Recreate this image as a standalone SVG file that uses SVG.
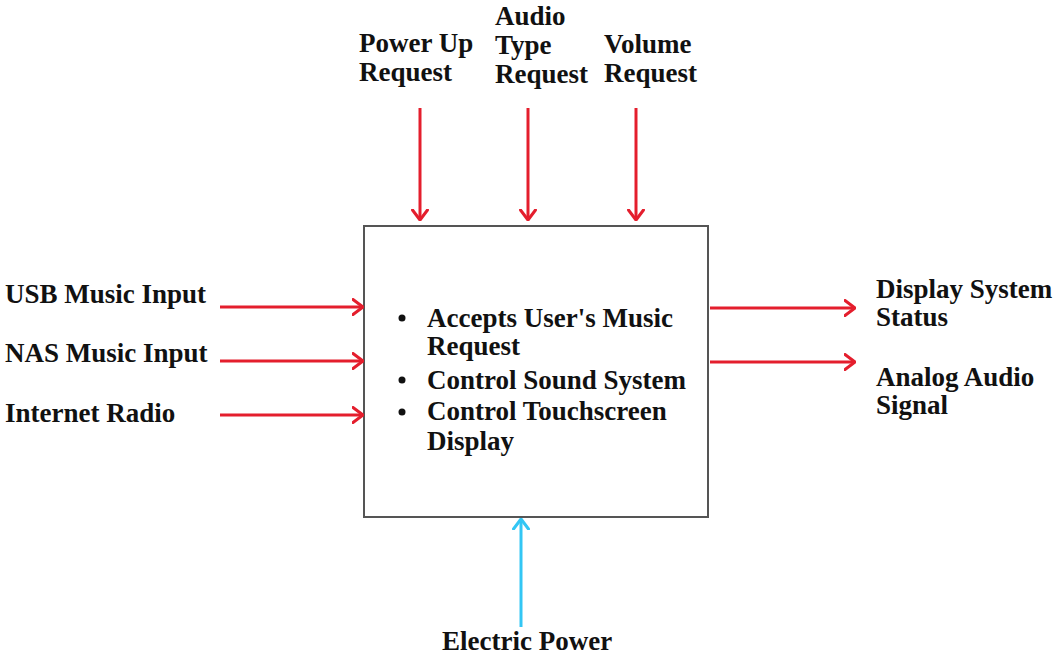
<svg xmlns="http://www.w3.org/2000/svg" width="1053" height="656" viewBox="0 0 1053 656">
<defs>
<style>
text{font-family:"Liberation Serif","Times New Roman",serif;font-weight:bold;font-size:27px;fill:#111}
.red{stroke:#e41e2d;stroke-width:3;fill:none}
.blue{stroke:#33c6f4;stroke-width:3;fill:none}
.box{fill:#fff;stroke:#555;stroke-width:2}
</style>
<marker id="ar" viewBox="0 0 12 18" refX="11" refY="9" markerWidth="12" markerHeight="18" markerUnits="userSpaceOnUse" orient="auto">
<path d="M1,1.5 L11,9 L1,16.5" fill="none" stroke="#e41e2d" stroke-width="3" stroke-linecap="round" stroke-linejoin="round"/>
</marker>
<marker id="ab" viewBox="0 0 12 18" refX="11" refY="9" markerWidth="12" markerHeight="18" markerUnits="userSpaceOnUse" orient="auto">
<path d="M1,1.5 L11,9 L1,16.5" fill="none" stroke="#33c6f4" stroke-width="3" stroke-linecap="round" stroke-linejoin="round"/>
</marker>
</defs>
<rect width="1053" height="656" fill="#fff"/>
<g id="process">
<rect class="box" x="364" y="226" width="344" height="291"/>
<circle cx="402" cy="318" r="3.5" fill="#111"/>
<circle cx="402" cy="380" r="3.5" fill="#111"/>
<circle cx="402" cy="412" r="3.5" fill="#111"/>
<text x="427" y="327">Accepts User's Music</text>
<text x="427" y="355">Request</text>
<text x="427" y="389">Control Sound System</text>
<text x="427" y="420">Control Touchscreen</text>
<text x="427" y="450">Display</text>
</g>
<g id="connectors">
<line class="red" x1="420" y1="108" x2="420" y2="220" marker-end="url(#ar)"/>
<line class="red" x1="528" y1="108" x2="528" y2="220" marker-end="url(#ar)"/>
<line class="red" x1="636" y1="108" x2="636" y2="220" marker-end="url(#ar)"/>
<line class="red" x1="220" y1="307" x2="363" y2="307" marker-end="url(#ar)"/>
<line class="red" x1="220" y1="361" x2="363" y2="361" marker-end="url(#ar)"/>
<line class="red" x1="220" y1="415" x2="363" y2="415" marker-end="url(#ar)"/>
<line class="red" x1="710" y1="308" x2="855" y2="308" marker-end="url(#ar)"/>
<line class="red" x1="710" y1="362" x2="855" y2="362" marker-end="url(#ar)"/>
<line class="blue" x1="521" y1="627" x2="521" y2="519" marker-end="url(#ab)"/>
</g>
<g id="power-up"><text x="359" y="52">Power Up</text><text x="359" y="81">Request</text></g>
<g id="audio-type"><text x="495" y="25">Audio</text><text x="495" y="54">Type</text><text x="495" y="83">Request</text></g>
<g id="volume"><text x="604" y="53">Volume</text><text x="604" y="82">Request</text></g>
<g id="usb"><text x="5" y="303">USB Music Input</text></g>
<g id="nas"><text x="5" y="362">NAS Music Input</text></g>
<g id="radio"><text x="5" y="422">Internet Radio</text></g>
<g id="display-status"><text x="876" y="298">Display System</text><text x="876" y="326">Status</text></g>
<g id="analog"><text x="876" y="386">Analog Audio</text><text x="876" y="414">Signal</text></g>
<g id="electric"><text x="442" y="650">Electric Power</text></g>
</svg>
